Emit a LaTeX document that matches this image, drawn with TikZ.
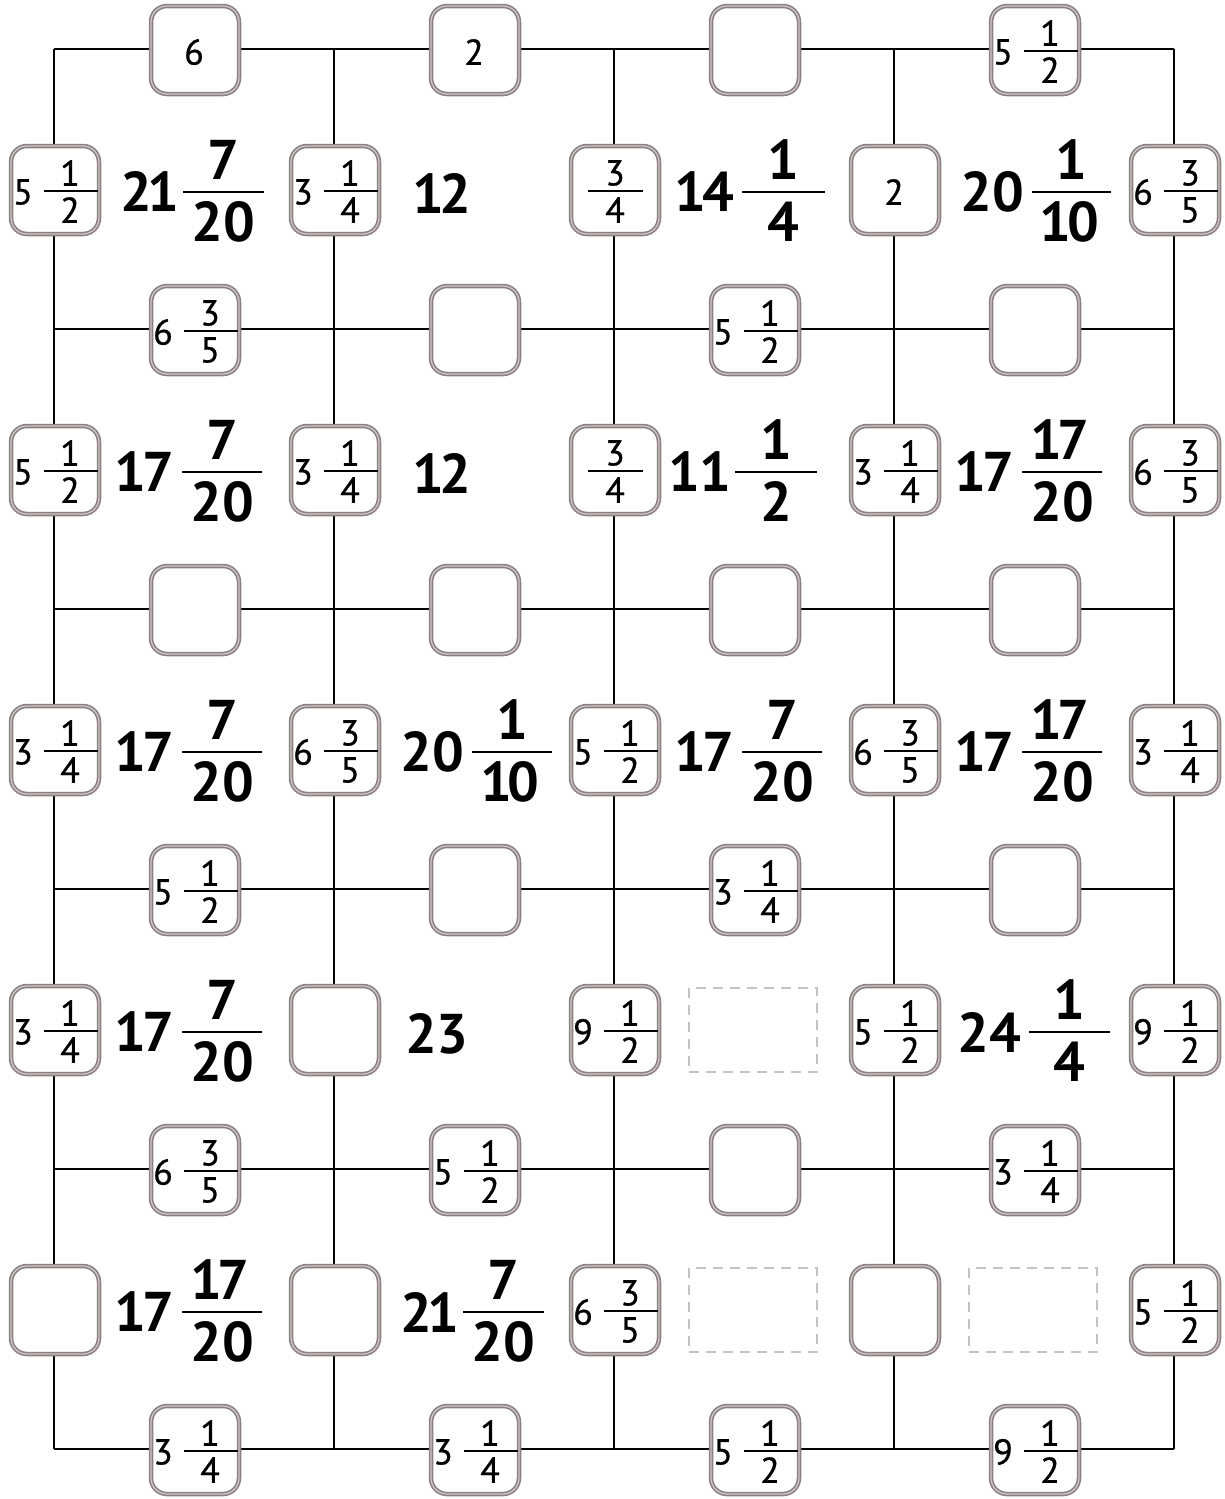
\documentclass[tikz,border=0pt]{standalone}
\usepackage{fontspec}
\setmainfont{PT Sans}
\newfontfamily\smallfam[FakeBold=0.8]{PT Sans}
\usetikzlibrary{calc}
\definecolor{boxdark}{RGB}{140,128,128}
\definecolor{boxlight}{RGB}{205,198,198}
\definecolor{dashgray}{RGB}{195,195,195}
\newcommand{\smallf}{\smallfam\fontsize{36}{36}\selectfont}
\newcommand{\bigf}{\fontsize{56}{56}\selectfont\bfseries}
\newcommand{\uno}{\kern-0.08em1\kern-0.08em}
\tikzset{
  gridline/.style={draw=black, line width=2.2pt},
  cellbox/.style={draw=boxdark, double=boxlight, double distance=1.3pt, line width=1.6pt,
    fill=white, rounded corners=16pt,
    minimum width=88pt, minimum height=88pt, inner sep=0pt},
  dashbox/.style={draw=dashgray, line width=2pt, dash pattern=on 10pt off 7pt,
    minimum width=128pt, minimum height=84pt, inner sep=0pt},
  smalltxt/.style={font=\smallf, inner sep=0pt},
  bigtxt/.style={font=\bigf, inner sep=0pt},
  smallbar/.style={draw=black, line width=2.2pt},
  bigbar/.style={draw=black, line width=2.6pt},
}
% empty box
\newcommand{\bxempty}[3]{\node[cellbox] (#1) at (#2,#3) {};}
% box with a single number
\newcommand{\bxone}[4]{\node[cellbox] (#1) at (#2,#3) {};
  \node[smalltxt] (#1-t) at ($(#1)+(-1,2)$) {#4};}
% box with a mixed number
\newcommand{\bxmix}[6]{\node[cellbox] (#1) at (#2,#3) {};
  \coordinate (#1-bl) at ($(#1)+(-11,1)$);
  \coordinate (#1-br) at ($(#1)+(43,1)$);
  \draw[smallbar] (#1-bl) -- (#1-br);
  \node[smalltxt] (#1-w) at ($(#1)+(-32,2)$) {#4};
  \node[smalltxt] (#1-n) at ($(#1)+(15,-17)$) {#5};
  \node[smalltxt] (#1-d) at ($(#1)+(15,20)$) {#6};}
% box with a plain fraction
\newcommand{\bxfrac}[5]{\node[cellbox] (#1) at (#2,#3) {};
  \coordinate (#1-bl) at ($(#1)+(-27,1)$);
  \coordinate (#1-br) at ($(#1)+(28,1)$);
  \draw[smallbar] (#1-bl) -- (#1-br);
  \node[smalltxt] (#1-n) at ($(#1)+(0,-17)$) {#4};
  \node[smalltxt] (#1-d) at ($(#1)+(0,20)$) {#5};}
% large mixed number in a cell: name, bar y, whole, num, den, bar x1, bar x2
\newcommand{\cellmix}[7]{\coordinate (#1-bl) at (#6,#2);
  \coordinate (#1-br) at (#7,#2);
  \draw[bigbar] (#1-bl) -- (#1-br);
  \coordinate (#1-bc) at ($(#1-bl)!0.5!(#1-br)$);
  \node[bigtxt, anchor=east] (#1-w) at ($(#1-bl)+(-8,0)$) {#3};
  \node[bigtxt] (#1-n) at ($(#1-bc)+(0,-32)$) {#4};
  \node[bigtxt] (#1-d) at ($(#1-bc)+(0,30)$) {#5};}

\begin{document}
\begin{tikzpicture}[x=1pt,y=-1pt]
\useasboundingbox[fill=white] (0,0) rectangle (1225,1499);
% grid
\foreach \i in {0,...,4}{\foreach \j in {0,...,5}{
  \coordinate (g-\i-\j) at ({54+280*\i},{49+280*\j});}}
\foreach \i in {0,...,4}{\draw[gridline] (g-\i-0) -- (g-\i-5);}
\foreach \j in {0,...,5}{\draw[gridline] (g-0-\j) -- (g-4-\j);}

% horizontal-edge boxes
\bxone{h-0-0}{195}{50}{6}
\bxone{h-1-0}{475}{50}{2}
\bxempty{h-2-0}{755}{50}
\bxmix{h-3-0}{1035}{50}{5}{1}{2}

\bxmix{h-0-1}{195}{330}{6}{3}{5}
\bxempty{h-1-1}{475}{330}
\bxmix{h-2-1}{755}{330}{5}{1}{2}
\bxempty{h-3-1}{1035}{330}

\bxempty{h-0-2}{195}{610}
\bxempty{h-1-2}{475}{610}
\bxempty{h-2-2}{755}{610}
\bxempty{h-3-2}{1035}{610}

\bxmix{h-0-3}{195}{890}{5}{1}{2}
\bxempty{h-1-3}{475}{890}
\bxmix{h-2-3}{755}{890}{3}{1}{4}
\bxempty{h-3-3}{1035}{890}

\bxmix{h-0-4}{195}{1170}{6}{3}{5}
\bxmix{h-1-4}{475}{1170}{5}{1}{2}
\bxempty{h-2-4}{755}{1170}
\bxmix{h-3-4}{1035}{1170}{3}{1}{4}

\bxmix{h-0-5}{195}{1450}{3}{1}{4}
\bxmix{h-1-5}{475}{1450}{3}{1}{4}
\bxmix{h-2-5}{755}{1450}{5}{1}{2}
\bxmix{h-3-5}{1035}{1450}{9}{1}{2}

% vertical-edge boxes
\bxmix{v-0-0}{55}{190}{5}{1}{2}
\bxmix{v-1-0}{335}{190}{3}{1}{4}
\bxfrac{v-2-0}{615}{190}{3}{4}
\bxone{v-3-0}{895}{190}{2}
\bxmix{v-4-0}{1175}{190}{6}{3}{5}

\bxmix{v-0-1}{55}{470}{5}{1}{2}
\bxmix{v-1-1}{335}{470}{3}{1}{4}
\bxfrac{v-2-1}{615}{470}{3}{4}
\bxmix{v-3-1}{895}{470}{3}{1}{4}
\bxmix{v-4-1}{1175}{470}{6}{3}{5}

\bxmix{v-0-2}{55}{750}{3}{1}{4}
\bxmix{v-1-2}{335}{750}{6}{3}{5}
\bxmix{v-2-2}{615}{750}{5}{1}{2}
\bxmix{v-3-2}{895}{750}{6}{3}{5}
\bxmix{v-4-2}{1175}{750}{3}{1}{4}

\bxmix{v-0-3}{55}{1030}{3}{1}{4}
\bxempty{v-1-3}{335}{1030}
\bxmix{v-2-3}{615}{1030}{9}{1}{2}
\bxmix{v-3-3}{895}{1030}{5}{1}{2}
\bxmix{v-4-3}{1175}{1030}{9}{1}{2}

\bxempty{v-0-4}{55}{1310}
\bxempty{v-1-4}{335}{1310}
\bxmix{v-2-4}{615}{1310}{6}{3}{5}
\bxempty{v-3-4}{895}{1310}
\bxmix{v-4-4}{1175}{1310}{5}{1}{2}

% cells
\cellmix{c-0-0}{192}{2\uno}{7}{20}{183}{264}
\node[bigtxt, anchor=west] (c-1-0) at (417,194) {\uno2};
\cellmix{c-2-0}{192}{\uno4}{1}{4}{742}{825}
\cellmix{c-3-0}{192}{20}{1}{\uno0}{1032}{1111}

\cellmix{c-0-1}{472}{\uno7}{7}{20}{182}{262}
\node[bigtxt, anchor=west] (c-1-1) at (417,474) {\uno2};
\cellmix{c-2-1}{472}{\kern-0.08em1\kern-0.02em1\kern-0.08em}{1}{2}{735}{817}
\cellmix{c-3-1}{472}{\uno7}{\uno7}{20}{1022}{1102}

\cellmix{c-0-2}{752}{\uno7}{7}{20}{182}{262}
\cellmix{c-1-2}{752}{20}{1}{\uno0}{472}{552}
\cellmix{c-2-2}{752}{\uno7}{7}{20}{742}{822}
\cellmix{c-3-2}{752}{\uno7}{\uno7}{20}{1022}{1102}

\cellmix{c-0-3}{1032}{\uno7}{7}{20}{182}{262}
\node[bigtxt, anchor=west] (c-1-3) at (405,1034) {23};
\node[dashbox] (c-2-3) at (753,1030) {};
\cellmix{c-3-3}{1032}{24}{1}{4}{1029}{1110}

\cellmix{c-0-4}{1312}{\uno7}{\uno7}{20}{182}{262}
\cellmix{c-1-4}{1312}{2\uno}{7}{20}{463}{544}
\node[dashbox] (c-2-4) at (753,1310) {};
\node[dashbox] (c-3-4) at (1033,1310) {};
\end{tikzpicture}
\end{document}
